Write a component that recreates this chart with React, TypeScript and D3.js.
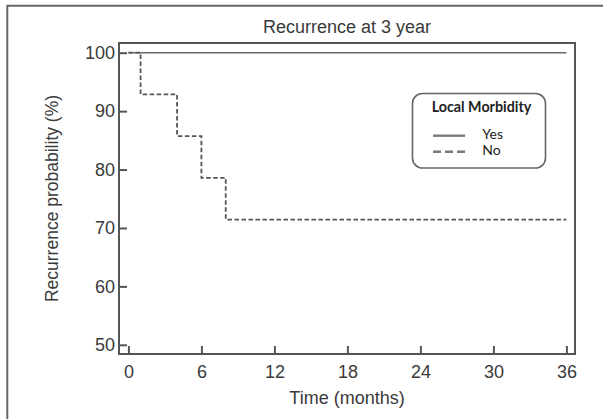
import { useEffect, useRef } from "react";
import * as d3 from "d3";

const W = 603;
const H = 419;

// plot frame
const BOX = { left: 119, top: 43, right: 575, bottom: 354 };

const xTicks = [0, 6, 12, 18, 24, 30, 36];
const yTicks = [50, 60, 70, 80, 90, 100];

// Kaplan-Meier steps, months vs % recurrence-free
const yesTimes = [0, 36];
const yesValues = [100, 100];
const noTimes = [0, 1, 4, 6, 8, 36];
const noValues = [100, 92.86, 85.71, 78.57, 71.43, 71.43];

const legendItems = ["Yes", "No"];

const AXIS_COLOR = "#555";
const TEXT_COLOR = "#3a3a3a";
const FONT = "Liberation Sans, Arial, sans-serif";

export default function App() {
  const svgRef = useRef<SVGSVGElement | null>(null);

  useEffect(() => {
    const svg = d3.select(svgRef.current);
    svg.selectAll("*").remove();

    const x = d3.scaleLinear().domain([0, 36]).range([128.4, 566.4]);
    const y = d3.scaleLinear().domain([50, 100]).range([344.8, 52.7]);

    // Outer figure frame (only top + left visible).
    svg
      .append("path")
      .attr("d", `M7.3 ${H} V5.7 H${W}`)
      .attr("fill", "none")
      .attr("stroke", "#666")
      .attr("stroke-width", 2);

    // Title.
    svg
      .append("text")
      .attr("x", (BOX.left + BOX.right) / 2)
      .attr("y", 32.5)
      .attr("text-anchor", "middle")
      .attr("font-family", FONT)
      .attr("font-size", 18)
      .attr("fill", TEXT_COLOR)
      .text("Recurrence at 3 year");

    // Axes with inward ticks.
    const gx = svg
      .append("g")
      .attr("transform", `translate(0,${BOX.bottom})`)
      .call(d3.axisBottom(x).tickValues(xTicks).tickSize(-8).tickPadding(11));
    const gy = svg
      .append("g")
      .attr("transform", `translate(${BOX.left},0)`)
      .call(d3.axisLeft(y).tickValues(yTicks).tickSize(-8).tickPadding(4));

    [gx, gy].forEach((g) => {
      g.select(".domain").remove();
      g.selectAll(".tick line").attr("stroke", AXIS_COLOR).attr("stroke-width", 2);
      g.selectAll(".tick text")
        .attr("font-family", FONT)
        .attr("font-size", 18)
        .attr("fill", TEXT_COLOR);
    });

    // Plot box.
    svg
      .append("rect")
      .attr("x", BOX.left)
      .attr("y", BOX.top)
      .attr("width", BOX.right - BOX.left)
      .attr("height", BOX.bottom - BOX.top)
      .attr("fill", "none")
      .attr("stroke", AXIS_COLOR)
      .attr("stroke-width", 2);

    const step = d3
      .line<[number, number]>()
      .x((d) => x(d[0]))
      .y((d) => y(d[1]))
      .curve(d3.curveStepAfter);

    svg
      .append("path")
      .attr("d", step(yesTimes.map((t, i) => [t, yesValues[i]])) ?? "")
      .attr("fill", "none")
      .attr("stroke", "#6a6a6a")
      .attr("stroke-width", 1.6);

    svg
      .append("path")
      .attr("d", step(noTimes.map((t, i) => [t, noValues[i]])) ?? "")
      .attr("fill", "none")
      .attr("stroke", "#555")
      .attr("stroke-width", 1.8)
      .attr("stroke-dasharray", "4.5 2.5");

    // Axis titles.
    svg
      .append("text")
      .attr("transform", `translate(58,${(BOX.top + BOX.bottom) / 2}) rotate(-90)`)
      .attr("text-anchor", "middle")
      .attr("font-family", FONT)
      .attr("font-size", 17.5)
      .attr("fill", TEXT_COLOR)
      .text("Recurrence probability (%)");

    svg
      .append("text")
      .attr("x", (BOX.left + BOX.right) / 2)
      .attr("y", 404)
      .attr("text-anchor", "middle")
      .attr("font-family", FONT)
      .attr("font-size", 18)
      .attr("fill", TEXT_COLOR)
      .text("Time (months)");

    // Legend.
    const lg = svg.append("g");
    lg.append("rect")
      .attr("x", 412.5)
      .attr("y", 93.5)
      .attr("width", 133)
      .attr("height", 74.5)
      .attr("rx", 10)
      .attr("fill", "white")
      .attr("stroke", "#666")
      .attr("stroke-width", 1.6);
    lg.append("text")
      .attr("x", 481.5)
      .attr("y", 111.7)
      .attr("text-anchor", "middle")
      .attr("font-family", "Lato, sans-serif")
      .attr("font-weight", "bold")
      .attr("font-size", 14.3)
      .attr("fill", "#222")
      .text("Local Morbidity");

    const rowY = [135.7, 151.7];
    const textY = [139.2, 155.3];
    legendItems.forEach((name, i) => {
      lg.append("line")
        .attr("x1", 433)
        .attr("x2", 465)
        .attr("y1", rowY[i])
        .attr("y2", rowY[i])
        .attr("stroke", "#7a7a7a")
        .attr("stroke-width", 2.4)
        .attr("stroke-dasharray", i === 1 ? "8 4" : null);
      lg.append("text")
        .attr("x", 482.3)
        .attr("y", textY[i])
        .attr("font-family", "Lato, sans-serif")
        .attr("font-size", 14)
        .attr("fill", "#222")
        .text(name);
    });
  }, []);

  return (
    <svg
      ref={svgRef}
      width={W}
      height={H}
      viewBox={`0 0 ${W} ${H}`}
      style={{ position: "absolute", left: 0, top: 0, background: "white" }}
    />
  );
}
